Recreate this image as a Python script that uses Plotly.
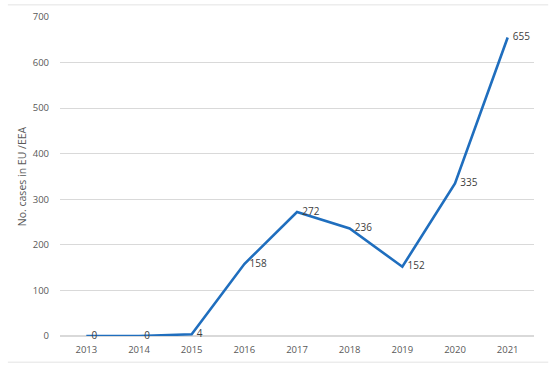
import plotly.graph_objects as go

years = ["2013", "2014", "2015", "2016", "2017", "2018", "2019", "2020", "2021"]
cases = [0, 0, 4, 158, 272, 236, 152, 335, 655]
y_ticks = [0, 100, 200, 300, 400, 500, 600, 700]

fig = go.Figure()
fig.add_trace(go.Scatter(
    x=years, y=cases, mode="lines+text",
    text=[f"  {v}" for v in cases], textposition="middle right",
    textfont=dict(size=10, color="#404040", family="Open Sans, Liberation Sans, sans-serif"),
    line=dict(color="#1F6EBE", width=2.6),
    cliponaxis=False, hoverinfo="skip",
))

fig.update_layout(
    width=550, height=367,
    margin=dict(l=60, r=16, t=17, b=31),
    paper_bgcolor="white", plot_bgcolor="white",
    showlegend=False,
    font=dict(family="Open Sans, Liberation Sans, sans-serif", size=10, color="#595959"),
    xaxis=dict(type="category", showgrid=False, showline=False, ticks="",
               ticklabelstandoff=6, automargin=False,
               tickfont=dict(size=9.5, color="#595959"), range=[-0.5, 8.5]),
    yaxis=dict(range=[0, 700], tickvals=y_ticks, showgrid=True, gridcolor="#D9D9D9",
               gridwidth=1, zeroline=True, zerolinecolor="#D9D9D9", showline=False,
               ticks="", ticklabelstandoff=10, automargin=False,
               tickfont=dict(size=9.5, color="#595959"),
               title=dict(text="No. cases in EU /EEA", font=dict(size=10.5, color="#595959"),
                          standoff=4)),
    shapes=[
        dict(type="line", xref="paper", yref="paper", x0=-0.11, x1=1.03, y0=1.038, y1=1.038,
             line=dict(color="#E3E3E3", width=1)),
        dict(type="line", xref="paper", yref="paper", x0=-0.11, x1=1.03, y0=-0.082, y1=-0.082,
             line=dict(color="#E3E3E3", width=1)),
    ],
)

fig.write_html("out.html", config={"displayModeBar": False},
               post_script="document.body.style.margin='0';")
